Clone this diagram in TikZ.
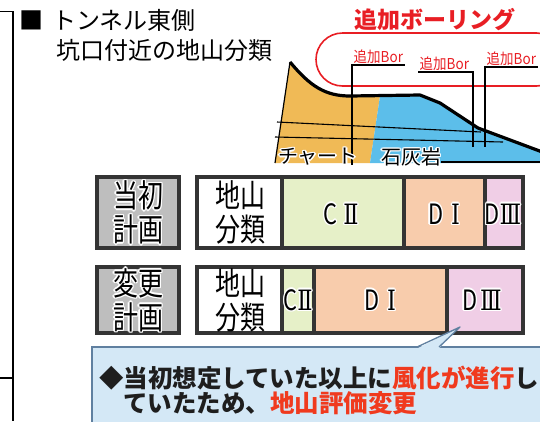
\documentclass[tikz,border=0pt]{standalone}
\usepackage{fontspec}
\setmainfont{Noto Sans CJK JP}
\newfontfamily\jpnarrow[FakeStretch=0.78]{Noto Sans CJK JP}
\newfontfamily\jpcond[FakeStretch=0.9]{Noto Sans CJK JP}
\newfontfamily\romnum[FakeStretch=0.8]{DejaVu Serif}
\usetikzlibrary{positioning}

\definecolor{borred}{RGB}{232,30,36}
\definecolor{notered}{RGB}{240,58,30}
\definecolor{notetext}{RGB}{30,30,30}
\definecolor{frame}{RGB}{52,52,52}
\definecolor{planfill}{RGB}{190,190,190}
\definecolor{chert}{RGB}{240,186,86}
\definecolor{limestone}{RGB}{92,190,234}
\definecolor{gradeCII}{RGB}{230,240,200}
\definecolor{gradeDI}{RGB}{248,204,172}
\definecolor{gradeDIII}{RGB}{240,206,230}
\definecolor{notefill}{RGB}{212,232,246}
\definecolor{noteline}{RGB}{96,128,160}

% white rim round a label
\newcommand\halo[1]{%
  \rlap{\hspace{1.4pt}\textcolor{white}{#1}}%
  \rlap{\hspace{-1.4pt}\textcolor{white}{#1}}%
  \rlap{\raisebox{1.4pt}{\textcolor{white}{#1}}}%
  \rlap{\raisebox{-1.4pt}{\textcolor{white}{#1}}}%
  \rlap{\hspace{1pt}\raisebox{1pt}{\textcolor{white}{#1}}}%
  \rlap{\hspace{-1pt}\raisebox{1pt}{\textcolor{white}{#1}}}%
  \rlap{\hspace{1pt}\raisebox{-1pt}{\textcolor{white}{#1}}}%
  \rlap{\hspace{-1pt}\raisebox{-1pt}{\textcolor{white}{#1}}}%
  #1}

\begin{document}
\begin{tikzpicture}[x=1pt,y=-1pt,
    borlabel/.style={text=borred,font=\jpcond\fontsize{15}{15}\selectfont,inner sep=1.5pt},
    rowhead/.style={font=\jpnarrow\fontsize{32}{34}\selectfont,align=center,inner sep=0pt},
    grade/.style={font=\jpnarrow\fontsize{28}{28}\selectfont,inner sep=0pt},
    rocktext/.style={font=\fontsize{20}{20}\selectfont,inner sep=0pt},
    bar/.style={draw=frame,line width=4pt},
    notetxt/.style={anchor=west,text=notetext,font=\bfseries\fontsize{24.5}{24.5}\selectfont,inner sep=0pt}]
    \useasboundingbox (0,0) rectangle (540,421);

    % bracket on the left
    \draw[line width=1.8pt] (0,11.5) -- (13,11.5) -- (13,421);
    \draw[line width=1.8pt] (0,378) -- (13,378);

    % headings
    \node[anchor=west,font=\fontsize{24}{24}\selectfont,inner sep=0pt] (title) at (19,20) {■\hspace{9pt}トンネル東側};
    \node[anchor=west,font=\fontsize{24}{24}\selectfont,inner sep=0pt] (subtitle) at (56,50) {坑口付近の地山分類};
    \node[text=borred,font=\bfseries\fontsize{23}{23}\selectfont,inner sep=0pt] (boring) at (435,20) {追加ボーリング};

    % ground profile
    \fill[chert] (290,62) .. controls (310,86) and (325,96) .. (350,96) -- (380,96) -- (370,163) -- (275,163) -- cycle;
    \fill[limestone] (380,96) -- (420,95) -- (440,103) -- (478,128) -- (540,151) -- (540,163) -- (370,163) -- cycle;
    \draw[line width=1.2pt] (275,163) -- (290,62);
    \draw[line width=1.1pt] (277,122) -- (481,132);
    \draw[line width=1.1pt] (275,137) -- (503,142);
    \draw[line width=3.2pt,line join=round] (290,62) .. controls (310,86) and (325,96) .. (350,96)
        -- (420,95) -- (440,103) -- (478,128) -- (545,153);

    % extra borings
    \draw[borred,line width=1.6pt,rounded corners=26.5pt] (316,33) rectangle (563,86);
    \node[borlabel,anchor=south west] (bor1) at (352,65) {追加Bor};
    \node[borlabel,anchor=south west] (bor2) at (418,72) {追加Bor};
    \node[borlabel,anchor=south west] (bor3) at (485,67) {追加Bor};
    \coordinate (hole1) at (352,165);
    \coordinate (hole2) at (473,147);
    \coordinate (hole3) at (485,147);
    \draw[line width=1.1pt] (bor1.south east) -| (hole1);
    \draw[line width=1.1pt] (bor2.south west) -| (hole2);
    \draw[line width=1.1pt] (bor3.south east) -| (hole3);

    \node[rocktext] (chertname) at (318,157) {\halo{チャート}};
    \node[rocktext] (limename) at (411,157) {\halo{石灰岩}};
    \coordinate (groundend) at (540,162);
    \draw[line width=1.2pt] (groundend -| limename.east) -- (groundend);

    % original plan
    \draw[bar,fill=planfill] (97,177) rectangle (179,248);
    \node[rowhead] (plan1) at (138,212.5) {\halo{当初}\\\halo{計画}};
    \foreach \a/\b/\col in {199/282/white,282/404/gradeCII,404/485/gradeDI,485/521/gradeDIII}
        \fill[\col] (\a,179) rectangle (\b,246);
    \foreach \x in {282,404,485}
        \draw[frame,line width=4pt] (\x,177) -- (\x,248);
    \draw[bar] (197,177) rectangle (523,248);
    \node[rowhead] (soil1) at (240,212.5) {地山\\分類};
    \node[grade] (c1) at (341,214) {\halo{C\hspace{6pt}{\romnum Ⅱ}}};
    \node[grade] (d1) at (444,214) {\halo{D\hspace{8pt}{\romnum Ⅰ}}};
    \node[grade] (e1) at (503,214) {\halo{D{\romnum Ⅲ}}};

    % revised plan
    \draw[bar,fill=planfill] (97,267) rectangle (179,333);
    \node[rowhead] (plan2) at (138,300) {\halo{変更}\\\halo{計画}};
    \foreach \a/\b/\col in {199/282/white,282/314/gradeCII,314/447/gradeDI,447/521/gradeDIII}
        \fill[\col] (\a,269) rectangle (\b,331);
    \foreach \x in {282,314,447}
        \draw[frame,line width=4pt] (\x,267) -- (\x,333);
    \draw[bar] (197,267) rectangle (523,333);
    \node[rowhead] (soil2) at (240,300) {地山\\分類};
    \node[grade] (c2) at (298,300) {\halo{C{\romnum Ⅱ}}};
    \node[grade] (d2) at (380,300) {\halo{D\hspace{8pt}{\romnum Ⅰ}}};
    \node[grade] (e2) at (482,300) {\halo{D\hspace{3pt}{\romnum Ⅲ}}};

    % note
    \draw[draw=noteline,fill=notefill,line width=1.3pt] (92,347) rectangle (560,440);
    \coordinate (tip) at (460,327);
    \fill[notefill] (417,348.5) -- (tip) -- (439,348.5) -- cycle;
    \draw[noteline,line width=1.3pt,line join=round] (417,347) -- (tip) -- (439,347);
    \node[notetxt] (note1) at (99,378) {◆当初想定していた以上に\textcolor{notered}{風化が進行}し};
    \node[notetxt] (note2) at (123,403) {ていたため、\textcolor{notered}{地山評価変更}};
\end{tikzpicture}
\end{document}
